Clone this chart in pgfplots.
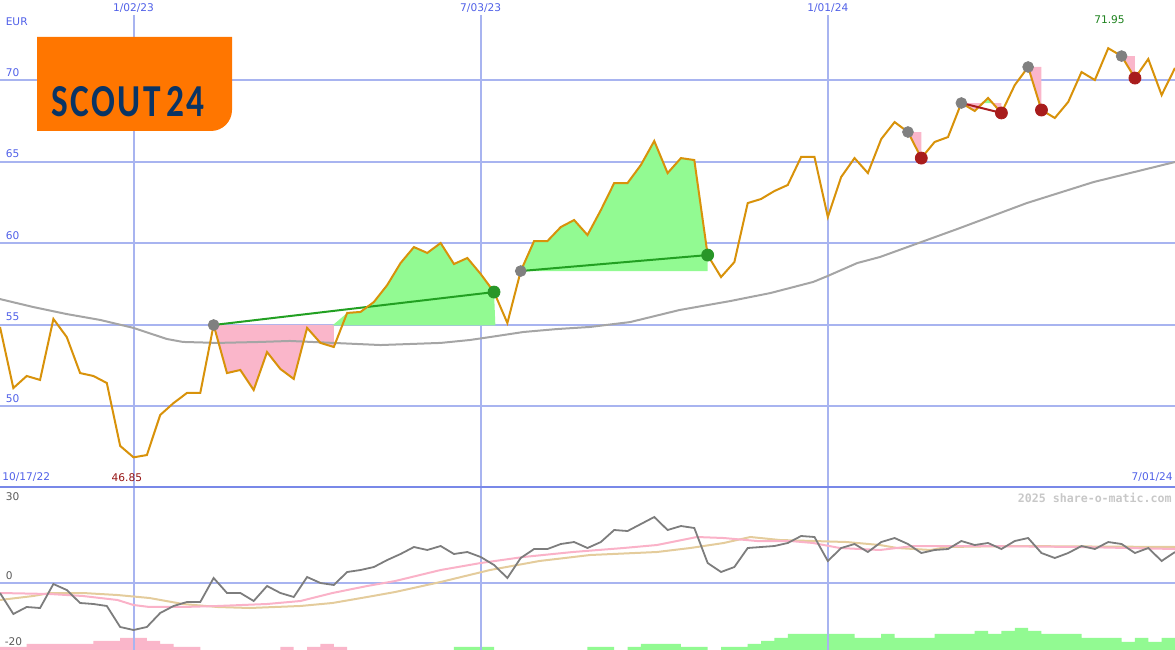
\documentclass[border=0pt]{standalone}
\usepackage{fontspec}
\setmainfont{DejaVu Sans}
\newfontfamily\wmfont{DejaVu Sans Mono}
\newfontfamily\logofont[LetterSpace=7]{Carlito}
\usepackage{pgfplots}
\pgfplotsset{compat=1.18}

\definecolor{gridblue}{RGB}{168,180,240}
\definecolor{sepblue}{RGB}{120,136,232}
\definecolor{lblblue}{RGB}{80,96,232}
\definecolor{pricecol}{RGB}{216,146,10}
\definecolor{macol}{RGB}{165,165,165}
\definecolor{gainfill}{RGB}{146,250,146}
\definecolor{lossfill}{RGB}{250,182,202}
\definecolor{gainline}{RGB}{34,160,34}
\definecolor{gaindot}{RGB}{40,150,40}
\definecolor{lossdot}{RGB}{168,28,28}
\definecolor{opendot}{RGB}{128,128,128}
\definecolor{lowred}{RGB}{150,20,20}
\definecolor{highgreen}{RGB}{30,130,30}
\definecolor{momcol}{RGB}{125,125,125}
\definecolor{fastcol}{RGB}{250,178,200}
\definecolor{slowcol}{RGB}{228,204,156}
\definecolor{lowtext}{RGB}{90,90,90}
\definecolor{wmgray}{RGB}{200,200,200}
\definecolor{logoorange}{RGB}{255,118,0}
\definecolor{logonavy}{RGB}{10,52,100}

\newcommand\lbl{\fontsize{5.3bp}{6bp}\selectfont}

\pgfplotsset{
  panel/.style={scale only axis, width=587.5bp, xmin=0, xmax=88,
    xtick={10,36,62}, xticklabels={}, yticklabels={},
    major tick length=0pt, axis line style={draw=none},
    grid=major, grid style={gridblue, line width=1bp}, clip=false},
  dots/.style={only marks, mark=*, mark size=#1},
}
\tikzset{tag/.style={font=\lbl, inner sep=0pt}}

\begin{document}
\begin{tikzpicture}
\useasboundingbox (0,0) rectangle (587.5bp,325bp);

% price panel
\begin{axis}[panel, at={(0,81.5bp)}, anchor=south west, height=243.5bp,
  ymin=45.03, ymax=74.91, ytick={50,55,60,65,70}]
  % trade areas
  \addplot[fill=lossfill, draw=none] coordinates {(16,54.97) (17,52.02) (18,52.21) (19,50.98) (20,53.31) (21,52.27) (22,51.66) (23,54.79) (24,53.87) (25,53.62) (25,54.97)} -- cycle;
  \addplot[fill=gainfill, draw=none] coordinates {(24.9,54.94) (26,55.71) (27,55.77) (28,56.38) (29,57.42) (30,58.77) (31,59.75) (32,59.39) (33,60.00) (34,58.71) (35,59.08) (36,58.10) (37,56.99) (37.1,54.94)} -- cycle;
  \addplot[fill=gainfill, draw=none] coordinates {(39,58.28) (40,60.12) (41,60.12) (42,60.98) (43,61.41) (44,60.49) (45,62.02) (46,63.68) (47,63.68) (48,64.79) (49,66.26) (50,64.29) (51,65.21) (52,65.09) (53,59.26) (53,58.28)} -- cycle;
  \addplot[fill=lossfill, draw=none] coordinates {(68,66.81) (69,65.21) (69,66.81)} -- cycle;
  \addplot[fill=lossfill, draw=none] coordinates {(72,68.59) (73,68.10) (73.6,68.59)} -- cycle;
  \addplot[fill=gainfill, draw=none] coordinates {(73.6,68.59) (74,68.90) (74.34,68.59)} -- cycle;
  \addplot[fill=lossfill, draw=none] coordinates {(74.34,68.59) (75,67.98) (75,68.59)} -- cycle;
  \addplot[fill=lossfill, draw=none] coordinates {(77,70.80) (78,68.16) (78,70.80)} -- cycle;
  \addplot[fill=lossfill, draw=none] coordinates {(84,71.47) (85,70.12) (85,71.47)} -- cycle;

  % long moving average
  \addplot[macol, line width=1bp] coordinates {(0,56.56) (2.5,56.07) (5,55.64) (7.5,55.28) (10,54.79) (12.5,54.11) (13.7,53.93) (16.3,53.87) (19.5,53.93) (21.7,53.99) (28.5,53.74) (33,53.87) (35.2,54.05) (36.7,54.23) (39.2,54.54) (41.7,54.72) (44.2,54.85) (47.2,55.15) (50.9,55.89) (54.7,56.44) (57.7,56.93) (60.9,57.61) (62,57.98) (64.2,58.77) (65.9,59.14) (71.7,60.86) (76.9,62.45) (81.9,63.74) (88,64.97)};

  % trade lines
  \addplot[gainline, line width=1bp] coordinates {(16,54.97) (37,56.99)};
  \addplot[gainline, line width=1bp] coordinates {(39,58.28) (53,59.26)};

  % entries
  \addplot[dots=2.7bp, opendot] coordinates {(16,54.97) (39,58.28) (68,66.81) (72,68.59) (77,70.80) (84,71.47)};

  % price
  \addplot[pricecol, line width=1bp] coordinates {(0,54.85) (1,51.10) (2,51.84) (3,51.60) (4,55.34) (5,54.23) (6,52.02) (7,51.84) (8,51.41) (9,47.55) (10,46.85) (11,46.99) (12,49.45) (13,50.18) (14,50.80) (15,50.80) (16,54.97) (17,52.02) (18,52.21) (19,50.98) (20,53.31) (21,52.27) (22,51.66) (23,54.79) (24,53.87) (25,53.62) (26,55.71) (27,55.77) (28,56.38) (29,57.42) (30,58.77) (31,59.75) (32,59.39) (33,60.00) (34,58.71) (35,59.08) (36,58.10) (37,56.99) (38,55.09) (39,58.28) (40,60.12) (41,60.12) (42,60.98) (43,61.41) (44,60.49) (45,62.02) (46,63.68) (47,63.68) (48,64.79) (49,66.26) (50,64.29) (51,65.21) (52,65.09) (53,59.26) (54,57.91) (55,58.83) (56,62.45) (57,62.70) (58,63.19) (59,63.56) (60,65.28) (61,65.28) (62,61.60) (63,64.05) (64,65.21) (65,64.29) (66,66.38) (67,67.42) (68,66.81) (69,65.21) (70,66.20) (71,66.50) (72,68.59) (73,68.10) (74,68.90) (75,67.98) (76,69.69) (77,70.80) (78,68.16) (79,67.67) (80,68.65) (81,70.49) (82,70.00) (83,71.95) (84,71.47) (85,70.12) (86,71.29) (87,69.08) (88,70.74)};

  \addplot[lossdot, line width=1bp] coordinates {(72,68.59) (75,67.98)};

  % exits
  \addplot[dots=3bp, gaindot] coordinates {(37,56.99) (53,59.26)};
  \addplot[dots=3bp, lossdot] coordinates {(69,65.21) (75,67.98) (78,68.16) (85,70.12)};

  % labels
  \node[tag, text=lblblue, fill=white, inner sep=1.5bp, anchor=north] at (axis cs:10,74.91) {1/02/23};
  \node[tag, text=lblblue, fill=white, inner sep=1.5bp, anchor=north] at (axis cs:36,74.91) {7/03/23};
  \node[tag, text=lblblue, fill=white, inner sep=1.5bp, anchor=north] at (axis cs:62,74.91) {1/01/24};
  \node[tag, text=lblblue, anchor=west, xshift=2.7bp] at (axis cs:0,73.56) {EUR};
  \node[tag, text=lblblue, anchor=south west, xshift=2.7bp, yshift=1.5bp] at (axis cs:0,50) {50};
  \node[tag, text=lblblue, anchor=south west, xshift=2.7bp, yshift=1.5bp] at (axis cs:0,55) {55};
  \node[tag, text=lblblue, anchor=south west, xshift=2.7bp, yshift=1.5bp] at (axis cs:0,60) {60};
  \node[tag, text=lblblue, anchor=south west, xshift=2.7bp, yshift=1.5bp] at (axis cs:0,65) {65};
  \node[tag, text=lblblue, anchor=south west, xshift=2.7bp, yshift=1.5bp] at (axis cs:0,70) {70};
  \node[tag, text=lblblue, anchor=south west, xshift=1bp, yshift=2.5bp] at (rel axis cs:0,0) {10/17/22};
  \node[tag, text=lowred, anchor=south, yshift=2.5bp] at (axis cs:9.5,45.03) {46.85};
  \node[tag, text=lblblue, anchor=south east, xshift=-1bp, yshift=2.5bp] at (rel axis cs:1,0) {7/01/24};
  \node[tag, text=highgreen, anchor=south] at (axis cs:83.1,73.44) {71.95};
\end{axis}

% volume-like bars under the indicator panel
\begin{axis}[at={(0,0)}, anchor=south west, scale only axis, width=587.5bp, height=81.5bp,
  xmin=0, xmax=88, ymin=0, ymax=163, hide axis]
  \addplot[const plot, fill=lossfill, draw=none] coordinates {(0,3) (2,6) (7,9) (9,12) (11,9) (12,6) (13,3) (15,0) (21,3) (22,0) (23,3) (24,6) (25,3) (26,0)} \closedcycle;
  \addplot[const plot, fill=gainfill, draw=none] coordinates {(34,3) (37,0) (44,3) (46,0) (47,3) (48,6) (51,3) (53,0) (54,3) (56,6) (57,9) (58,12) (59,16) (64,12) (66,16) (67,12) (70,16) (73,19) (74,16) (75,19) (76,22) (77,19) (78,16) (81,12) (84,8) (85,12) (86,8) (87,12) (88,12)} \closedcycle;
\end{axis}

% indicator panel
\begin{axis}[panel, at={(0,0)}, anchor=south west, height=81.5bp,
  ymin=-23.93, ymax=34.29, ytick={0}]
  \addplot[slowcol, line width=1bp] coordinates {(0,-6.07) (2.5,-4.64) (3.75,-3.57) (6.2,-3.57) (8.8,-4.29) (11.2,-5.36) (13.7,-7.50) (16.3,-8.57) (18.7,-8.93) (22.5,-8.21) (24.9,-7.14) (27.5,-5.00) (29.6,-3.21) (33,0.36) (36.7,4.64) (40.4,7.86) (44.2,10.00) (49.2,11.07) (51.7,12.50) (54.2,14.29) (56.2,16.43) (58.4,15.36) (63.4,14.64) (65.9,13.57) (67.2,12.50) (69.7,11.79) (70.9,12.86) (75.9,13.21) (88,12.86)};
  \addplot[fastcol, line width=1bp] coordinates {(0,-3.57) (3.75,-3.93) (6.2,-4.64) (8.8,-6.07) (10,-7.86) (11.2,-8.57) (13.7,-8.57) (16.3,-8.21) (20,-7.50) (22.5,-6.43) (24.9,-3.57) (27.5,-1.07) (29.6,0.71) (33,4.64) (36,7.14) (39.2,9.29) (42.9,11.07) (46.7,12.50) (49.2,13.57) (52.2,16.43) (54.2,16.07) (56.7,15.00) (59.2,15.00) (60.9,14.29) (62.9,12.50) (65.9,11.79) (68.4,13.21) (73.4,13.21) (80.9,12.86) (88,12.14)};
  \addplot[momcol, line width=0.9bp] coordinates {(0,-3.57) (1,-11.07) (2,-8.57) (3,-8.93) (4,-0.36) (5,-2.50) (6,-7.14) (7,-7.50) (8,-8.21) (9,-15.71) (10,-16.79) (11,-15.71) (12,-10.71) (13,-8.21) (14,-6.79) (15,-6.79) (16,1.79) (17,-3.57) (18,-3.57) (19,-6.43) (20,-1.07) (21,-3.57) (22,-5.00) (23,2.14) (24,0) (25,-0.71) (26,3.93) (27,4.64) (28,5.71) (29,8.21) (30,10.36) (31,12.86) (32,11.79) (33,13.21) (34,10.36) (35,11.07) (36,9.29) (37,6.43) (38,1.79) (39,8.93) (40,12.14) (41,12.14) (42,13.93) (43,14.64) (44,12.50) (45,14.64) (46,18.93) (47,18.57) (48,21.07) (49,23.57) (50,18.93) (51,20.36) (52,19.64) (53,7.14) (54,3.93) (55,5.71) (56,12.50) (57,12.86) (58,13.21) (59,14.29) (60,16.79) (61,16.43) (62,7.86) (63,12.50) (64,13.93) (65,11.07) (66,14.64) (67,16.07) (68,13.93) (69,10.71) (70,11.79) (71,12.14) (72,15.00) (73,13.57) (74,14.29) (75,12.14) (76,15.00) (77,16.07) (78,10.71) (79,8.93) (80,10.71) (81,13.21) (82,12.14) (83,14.64) (84,13.93) (85,10.71) (86,12.50) (87,7.86) (88,11.07)};

  \draw[sepblue, line width=1.2bp] (rel axis cs:0,1) -- (rel axis cs:1,1);
  \node[tag, text=lowtext, anchor=north west, xshift=2.7bp, yshift=-2.6bp] at (rel axis cs:0,1) {30};
  \node[tag, text=lowtext, anchor=south west, xshift=2.7bp, yshift=1.5bp] at (axis cs:0,0) {0};
  \node[tag, text=lowtext, anchor=south west, xshift=2.2bp, yshift=2bp] at (rel axis cs:0,0) {-20};
  \node[inner sep=0pt, anchor=north east, xshift=-1.5bp, yshift=-2.6bp, text=wmgray,
        font=\wmfont\bfseries\fontsize{5.8bp}{6.5bp}\selectfont] at (rel axis cs:1,1) {2025 share-o-matic.com};
\end{axis}

% logo
\fill[logoorange] (18.5bp,306.5bp) -- (116bp,306.5bp) -- (116bp,270bp)
  arc[start angle=0, end angle=-90, radius=10.5bp] -- (18.5bp,259.5bp) -- cycle;
\node[inner sep=0pt, text=logonavy] at (64bp,274bp)
  {\resizebox{76.5bp}{15bp}{\logofont\bfseries SCOUT\kern0.15em 24}};
\end{tikzpicture}
\end{document}
